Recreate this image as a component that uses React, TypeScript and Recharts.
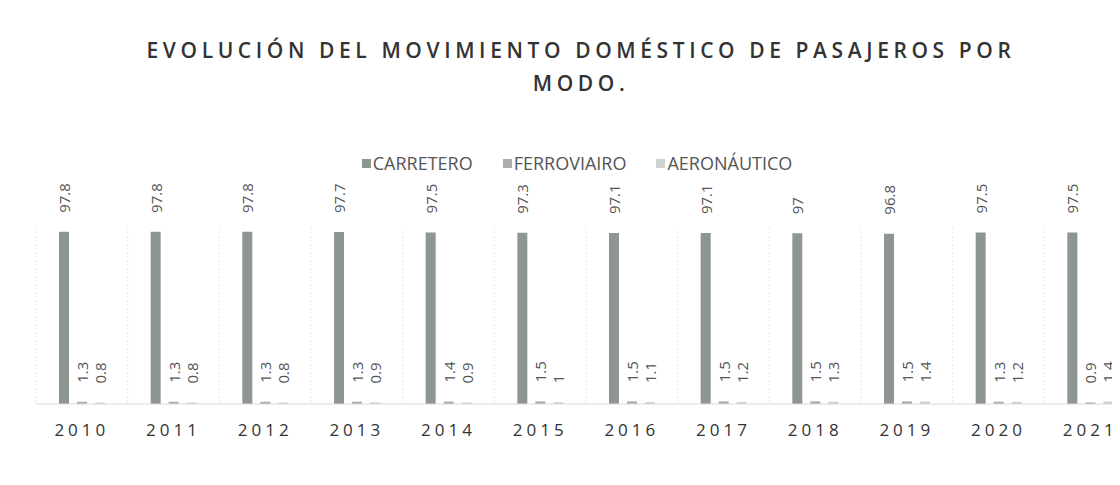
import React from 'react';
import { BarChart, Bar, XAxis, YAxis, CartesianGrid, Legend, LabelList } from 'recharts';

const years = ['2010', '2011', '2012', '2013', '2014', '2015', '2016', '2017', '2018', '2019', '2020', '2021'];
const carretero = [97.8, 97.8, 97.8, 97.7, 97.5, 97.3, 97.1, 97.1, 97, 96.8, 97.5, 97.5];
const ferroviario = [1.3, 1.3, 1.3, 1.3, 1.4, 1.5, 1.5, 1.5, 1.5, 1.5, 1.3, 0.9];
const aeronautico = [0.8, 0.8, 0.8, 0.9, 0.9, 1, 1.1, 1.2, 1.3, 1.4, 1.2, 1.4];

const seriesInfo = [
  { key: 'carretero', name: 'CARRETERO', color: '#8d9690' },
  { key: 'ferroviario', name: 'FERROVIAIRO', color: '#aaaeab' },
  { key: 'aeronautico', name: 'AERONÁUTICO', color: '#cfd1cf' },
];

const data = years.map((year, i) => ({
  year,
  carretero: carretero[i],
  ferroviario: ferroviario[i],
  aeronautico: aeronautico[i],
}));

const FONT = '"Open Sans", "DejaVu Sans", sans-serif';

// rotated value label sitting above the bar
const RotatedLabel = (props: any) => {
  const { x, y, width, value } = props;
  const cx = x + width / 2;
  const cy = y - 19;
  return (
    <text
      x={cx}
      y={cy}
      transform={`rotate(-90, ${cx}, ${cy})`}
      textAnchor="start"
      dominantBaseline="central"
      fontSize={15}
      fontFamily={FONT}
      fill="#555"
    >
      {value}
    </text>
  );
};

const LegendContent = () => (
  <div style={{ display: 'flex', justifyContent: 'center', gap: 30, fontFamily: FONT, fontSize: 18, color: '#555', height: 24, alignItems: 'center', paddingRight: 18 }}>
    {seriesInfo.map((s) => (
      <span key={s.key} style={{ display: 'flex', alignItems: 'center' }}>
        <span style={{ width: 9, height: 9, background: s.color, marginRight: 2, display: 'inline-block' }} />
        {s.name}
      </span>
    ))}
  </div>
);

// gridlines between categories
const boundaryLines = (props: any) => {
  const { offset } = props;
  const n = years.length;
  const step = offset.width / n;
  const out: number[] = [];
  for (let i = 0; i <= n; i++) out.push(offset.left + i * step);
  return out;
};

export default function App() {
  return (
    <div style={{ position: 'relative', width: 1160, height: 477 }}>
      <div
        style={{
          position: 'absolute',
          top: 26,
          left: 0,
          width: 1160,
          textAlign: 'center',
          fontFamily: FONT,
          fontWeight: 600,
          fontSize: 21,
          letterSpacing: 4.6,
          color: '#333',
          lineHeight: '33px',
          paddingRight: 14,
          boxSizing: 'border-box',
        }}
      >
        EVOLUCIÓN DEL MOVIMIENTO DOMÉSTICO DE PASAJEROS POR
        <br />
        MODO.
      </div>
      <BarChart
        width={1160}
        height={477}
        data={data}
        margin={{ top: 196, right: 32, bottom: 51, left: 28 }}
        barSize={10}
        barGap={8}
      >
        <CartesianGrid
          horizontal={false}
          vertical
          stroke="#e6e6e6"
          strokeDasharray="2 2"
          verticalCoordinatesGenerator={boundaryLines}
        />
        <XAxis
          dataKey="year"
          tickLine={false}
          tickSize={0}
          tickMargin={20}
          axisLine={{ stroke: '#d9d9d9' }}
          tick={{ fontSize: 17, fill: '#333', fontFamily: FONT, letterSpacing: 4 }}
          interval={0}
        />
        <YAxis hide domain={[0, 100]} />
        <Legend
          verticalAlign="top"
          align="center"
          content={<LegendContent />}
          wrapperStyle={{ top: 143 }}
        />
        {seriesInfo.map((s) => (
          <Bar key={s.key} dataKey={s.key} name={s.name} fill={s.color} isAnimationActive={false}>
            <LabelList dataKey={s.key} content={<RotatedLabel />} />
          </Bar>
        ))}
      </BarChart>
    </div>
  );
}
